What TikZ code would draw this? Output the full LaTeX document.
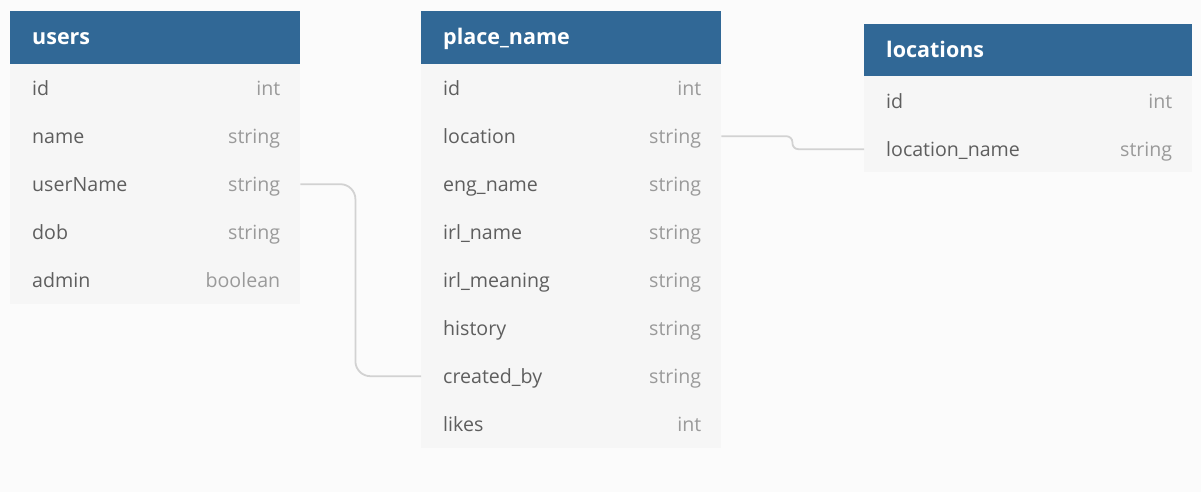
\documentclass[tikz,border=0pt]{standalone}
\usepackage{fontspec}
\setmainfont{Open Sans}
\definecolor{bgc}{HTML}{FBFBFB}
\definecolor{hdrc}{HTML}{316896}
\definecolor{bodyc}{HTML}{F6F6F6}
\definecolor{namec}{HTML}{5E5E5E}
\definecolor{typec}{HTML}{9A9A9A}
\definecolor{connc}{HTML}{D2D2D2}
\tikzset{
  hdrbox/.style={fill=hdrc, draw=none, inner sep=0pt, minimum height=53pt, anchor=north west},
  hdrtext/.style={text=white, inner sep=0pt, anchor=base west, font=\fontsize{21.5}{26}\selectfont\bfseries},
  bodybox/.style={fill=bodyc, draw=none, inner sep=0pt, anchor=north west},
  rowbox/.style={draw=none, inner sep=0pt, minimum height=48pt, anchor=north west},
  fname/.style={text=namec, inner sep=0pt, anchor=base west, font=\fontsize{19.6}{24}\selectfont},
  ftype/.style={text=typec, inner sep=0pt, anchor=base east, font=\fontsize{19.6}{24}\selectfont},
  conn/.style={draw=connc, line width=1.8pt}
}
% #1 node name, #2 x, #3 y top, #4 width, #5 field, #6 type
\newcommand\erow[6]{%
  \node[rowbox, minimum width=#4] (#1) at (#2,#3) {};
  \node[fname] (#1-n) at ([xshift=22pt,yshift=-7pt]#1.west) {#5};
  \node[ftype] (#1-t) at ([xshift=-20pt,yshift=-7pt]#1.east) {#6};
}
\begin{document}
\begin{tikzpicture}[x=1pt,y=-1pt]
\fill[bgc] (0,0) rectangle (1201,492);
\useasboundingbox (0,0) rectangle (1201,492);

% users
\node[hdrbox, minimum width=290pt] (users) at (10,11) {};
\node[hdrtext] (users-title) at (32,45) {users};
\node[bodybox, minimum width=290pt, minimum height=240pt] (users-body) at (10,64) {};
\erow{u-id}{10}{64}{290pt}{id}{int}
\erow{u-name}{10}{112}{290pt}{name}{string}
\erow{u-username}{10}{160}{290pt}{userName}{string}
\erow{u-dob}{10}{208}{290pt}{dob}{string}
\erow{u-admin}{10}{256}{290pt}{admin}{boolean}

% place_name
\node[hdrbox, minimum width=300pt] (pn) at (421,11) {};
\node[hdrtext] (pn-title) at (443,45) {place\_name};
\node[bodybox, minimum width=300pt, minimum height=384pt] (pn-body) at (421,64) {};
\erow{pn-id}{421}{64}{300pt}{id}{int}
\erow{pn-location}{421}{112}{300pt}{location}{string}
\erow{pn-engname}{421}{160}{300pt}{eng\_name}{string}
\erow{pn-irlname}{421}{208}{300pt}{irl\_name}{string}
\erow{pn-irlmeaning}{421}{256}{300pt}{irl\_meaning}{string}
\erow{pn-history}{421}{304}{300pt}{history}{string}
\erow{pn-createdby}{421}{352}{300pt}{created\_by}{string}
\erow{pn-likes}{421}{400}{300pt}{likes}{int}

% locations
\node[hdrbox, minimum width=328pt, minimum height=52pt] (loc) at (864,24) {};
\node[hdrtext] (loc-title) at (886,58) {locations};
\node[bodybox, minimum width=328pt, minimum height=96pt] (loc-body) at (864,76) {};
\erow{l-id}{864}{77}{328pt}{id}{int}
\erow{l-locname}{864}{125}{328pt}{location\_name}{string}

% connectors
\draw[conn, rounded corners=15pt] (u-username.east) -- ++(55,0) |- (pn-createdby.west);
\draw[conn, rounded corners=6pt] (pn-location.east) -- ++(71,0) |- (l-locname.west);
\end{tikzpicture}
\end{document}
